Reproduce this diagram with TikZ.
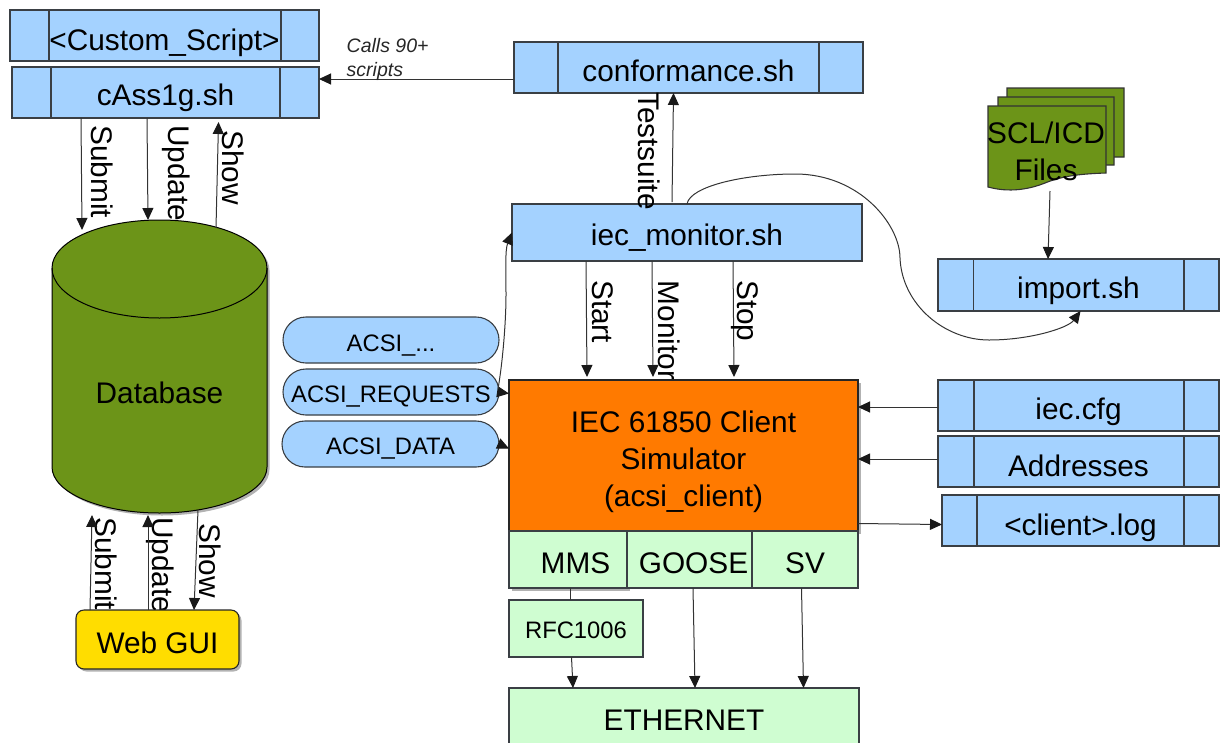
\documentclass[tikz,border=0pt]{standalone}
\usepackage{fontspec}
\setmainfont{Liberation Sans}
\usetikzlibrary{arrows.meta,shadows}
\definecolor{boxblue}{HTML}{A4D2FF}
\definecolor{dbgreen}{HTML}{6C9418}
\definecolor{orangec}{HTML}{FF7A00}
\definecolor{palegreen}{HTML}{CFFDD1}
\definecolor{guiyellow}{HTML}{FFDD00}
\definecolor{edgec}{HTML}{3A3F44}
\definecolor{wirec}{HTML}{333333}
\newcommand{\bigfs}{\fontsize{29.8}{37}\selectfont}
\newcommand{\midfs}{\fontsize{23.8}{28}\selectfont}
\newcommand{\procdiv}[3]{%
  \draw[edge] ([xshift=#2pt]#1.south west) -- ([xshift=#2pt]#1.north west);
  \draw[edge] ([xshift=-#3pt]#1.south east) -- ([xshift=-#3pt]#1.north east);}
\tikzset{
  edge/.style={draw=edgec,line width=1.1pt},
  basebox/.style={edge,inner sep=0pt,outer sep=0pt,font=\bigfs,
    text=black,rectangle},
  sized/.style n args={2}{minimum width=#1pt,minimum height=#2pt},
  bl/.style={text height=20pt+#1pt,text depth=20pt-#1pt},
  procbox/.style={basebox,fill=boxblue},
  palebox/.style={basebox,fill=palegreen},
  pill/.style={basebox,fill=boxblue,rounded corners=23pt,font=\midfs},
  softshadow/.style={drop shadow={shadow xshift=2.5pt,shadow yshift=-2.5pt,opacity=.3,fill=black}},
  arr/.style={draw=wirec,line width=1pt,-{Triangle[length=12pt,width=11pt,color=black!90]}},
  plainwire/.style={draw=wirec,line width=1pt},
  vlabel/.style={rotate=-90,anchor=base west,inner sep=0pt,font=\bigfs,text=black},
  ghost/.style={inner sep=0pt,outer sep=0pt,rectangle},
  docsheet/.style={draw=black!80,line width=1.1pt,fill=dbgreen},
}
\begin{document}
\begin{tikzpicture}[x=1pt,y=-1pt]
\useasboundingbox (0,0) rectangle (1220,742);

% database cylinder
\path[draw=black,line width=1pt,fill=dbgreen,softshadow] (52,268)
  arc[start angle=180,end angle=0,x radius=107.5pt,y radius=48pt]
  -- (267,467)
  arc[start angle=0,end angle=-180,x radius=107.5pt,y radius=46pt]
  -- cycle;
\draw[black,line width=1pt] (52,268)
  arc[start angle=180,end angle=360,x radius=107.5pt,y radius=50pt];
\node[ghost,sized={215}{293},font=\bigfs,text height=77pt,text depth=3pt] (db) at (159.5,366.5) {Database};

% script boxes
\node[procbox,sized={309}{51},bl=14.5] (custom) at (164.5,35.5) {<Custom\_Script>};
\procdiv{custom}{39}{38}
\node[procbox,sized={307}{51},bl=12.5] (cass) at (165.5,92.5) {cAss1g.sh};
\procdiv{cass}{39}{39}
\node[procbox,sized={349}{51},bl=13.5] (conf) at (688.5,67.5) {conformance.sh};
\procdiv{conf}{44}{44}
\node[procbox,sized={350}{57},bl=12.5] (mon) at (687,232.5) {iec\_monitor.sh};
\node[procbox,sized={281}{52},bl=13] (imp) at (1078.5,285) {import.sh};
\procdiv{imp}{35.5}{35}
\node[procbox,sized={281}{51},bl=13.5] (cfg) at (1078.5,405.5) {iec.cfg};
\procdiv{cfg}{36}{35}
\node[procbox,sized={281}{51},bl=14.5] (addr) at (1078.5,461.5) {Addresses};
\procdiv{addr}{36}{35}
\node[procbox,sized={277}{51},bl=15] (log) at (1080.5,520.5) {<client>.log};
\procdiv{log}{35}{35}

% document stack
\path[docsheet] (1007,88) -- (1124,88) -- (1124,157) -- (1090,157) -- (1007,160) -- cycle;
\path[docsheet] (998,97) -- (1114,97) -- (1114,165) -- (1080,165) -- (998,170) -- cycle;
\path[docsheet] (988,106) -- (1106,106) -- (1106,173)
  .. controls (1075,174) and (1060,177) .. (1045,183)
  .. controls (1030,189) and (1010,193) .. (988,187) -- cycle;
\node[ghost,align=center,font=\bigfs,text=black] (scl) at (1046,151) {SCL/ICD\\Files};
\coordinate (sclout) at (1050,191);

% vertical labels that sit behind the boxes
\node[vlabel] (lmonitor) at (658.5,280.5) {Monitor};
\node[vlabel] (lupd2) at (152,517) {Update};
\node[vlabel] (lsub2) at (95,517) {Submit};

% client simulator
\node[basebox,fill=orangec,sized={349}{151},draw=black!85,softshadow,align=center] (client) at (683.5,455.5)
  {\rule{0pt}{33.5pt}IEC 61850 Client\\Simulator\\(acsi\_client)};
\node[palebox,sized={118}{57},bl=13.5,softshadow] (mms) at (568,559.5) {\hspace{15pt}MMS};
\node[palebox,sized={125}{57},bl=13.5] (goose) at (689.5,559.5) {\hspace{8pt}GOOSE};
\node[palebox,sized={106}{57},bl=13.5] (sv) at (805,559.5) {SV};
\node[palebox,sized={134}{57},bl=10,font=\midfs] (rfc) at (576,628.5) {RFC1006};
\node[palebox,sized={350}{64},bl=10] (eth) at (684,720) {ETHERNET};

% web gui
\node[basebox,fill=guiyellow,draw=black!85,rounded corners=8pt,sized={163}{59},bl=13.5,softshadow] (gui) at (157.5,639.5) {Web GUI};

% pills
\node[pill,sized={216}{46},bl=11] (acsia) at (391,340) {ACSI\_...};
\node[pill,sized={216}{46},bl=10] (acsib) at (391,392) {ACSI\_REQUESTS};
\node[pill,sized={217}{46},bl=10] (acsic) at (390.5,444) {ACSI\_DATA};

% connectors
\draw[arr] ([xshift=-84.5pt]cass.south) -- ([xshift=-77.5pt,yshift=-10pt]db.north);
\draw[arr] ([xshift=-18.5pt]cass.south) -- ([xshift=-11.5pt]db.north);
\draw[arr] ([xshift=56.5pt,yshift=-8pt]db.north) -- ([xshift=53pt,yshift=-4pt]cass.south);
\draw[arr] ([xshift=-67.5pt]gui.north) -- ([xshift=-67.5pt,yshift=-2pt]db.south);
\draw[arr] ([xshift=-9.5pt]gui.north) -- ([xshift=-11.5pt,yshift=-2pt]db.south);
\draw[arr] ([xshift=38.5pt,yshift=3pt]db.south) -- ([xshift=36.5pt]gui.north);
\draw[arr] (conf.west |- 0,79) -- (cass.east |- 0,79);
\draw[arr] ([xshift=-15pt,yshift=2pt]mon.north) -- ([xshift=-15pt]conf.south);
\draw[arr] ([xshift=-101pt]mon.south) -- ([xshift=-96.5pt,yshift=3pt]client.north);
\draw[arr] ([xshift=-35pt]mon.south) -- ([xshift=-30.5pt,yshift=3pt]client.north);
\draw[arr] ([xshift=46pt]mon.south) -- ([xshift=50.5pt,yshift=3pt]client.north);
\draw[arr] (mon.north)
  .. controls (690,186) and (745,174) .. (795,174)
  .. controls (860,174) and (900,225) .. (900,258)
  .. controls (902,305) and (945,340) .. (989,340)
  .. controls (1030,340) and (1068,328) .. ([xshift=2pt]imp.south);
\draw[arr] (sclout) -- ([xshift=-30.5pt]imp.north);
\draw[arr] (cfg.west |- 0,407) -- (client.east |- 0,407);
\draw[arr] (addr.west |- 0,459) -- (client.east |- 0,459);
\draw[arr] (client.east |- 0,523.5) -- (log.west |- 0,524.5);
\draw[arr] (acsib.east) -- ([yshift=62pt]client.west);
\draw[arr] (acsic.east) -- ([yshift=7pt]client.west);
\draw[arr] ([xshift=-1pt,yshift=3pt]acsib.east)
  .. controls (503,360) and (506,320) .. (506,295)
  .. controls (506,270) and (505,250) .. (mon.west);
\draw[plainwire] ([xshift=2pt]mms.south) -- ([xshift=-6pt]rfc.north);
\draw[arr] ([xshift=-4.5pt]rfc.south) -- ([xshift=-111pt]eth.north);
\draw[arr] ([xshift=3.5pt]goose.south) -- ([xshift=11pt]eth.north);
\draw[arr] ([xshift=-3.5pt]sv.south) -- ([xshift=119.5pt]eth.north);

% labels on top
\node[vlabel] (lsub1) at (91.5,125) {Submit};
\node[vlabel] (lupd1) at (168,125) {Update};
\node[vlabel] (lshow1) at (222.5,130) {Show};
\node[vlabel] (ltest) at (638,92) {Testsuite};
\node[vlabel] (lstart) at (592.5,280) {Start};
\node[vlabel] (lstop) at (737.5,280) {Stop};
\node[vlabel] (lshow2) at (199,523) {Show};
\node[ghost,anchor=west,align=left,font=\fontsize{19.5}{24}\selectfont\itshape,text=black!85] (calls) at (346.7,59.5) {Calls 90+\\scripts};
\end{tikzpicture}
\end{document}
